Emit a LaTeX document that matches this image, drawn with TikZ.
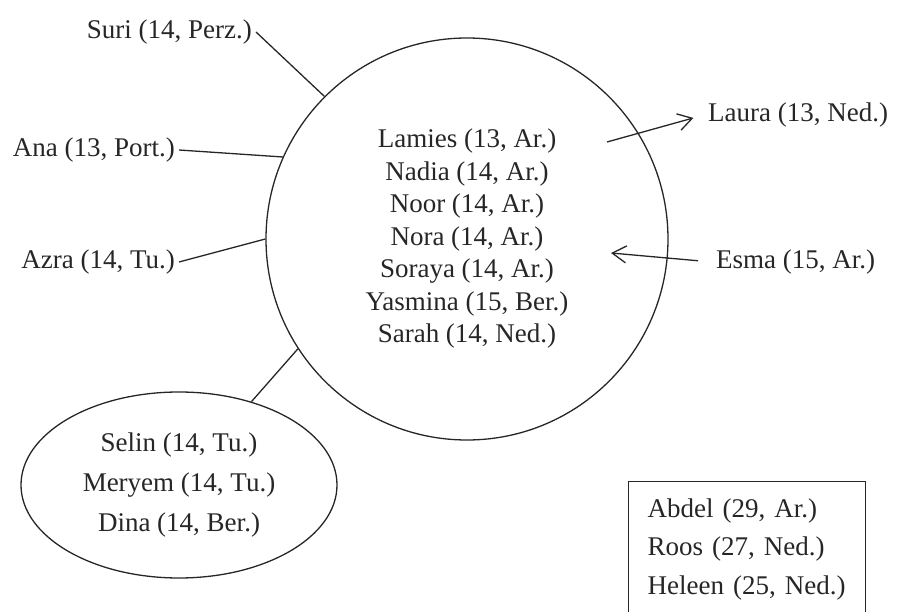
\documentclass[tikz,border=0pt]{standalone}
\usepackage{fontspec}
\setmainfont{Liberation Serif}
\usepackage{tikz}
\usetikzlibrary{
  shapes.geometric,
  arrows.meta
}

\begin{document}
\begin{tikzpicture}[
    x=1pt, y=-1pt,
    color=black!85,
    font=\fontsize{27}{32.5}\selectfont,
    grp/.style={circle, draw, line width=1.3pt, minimum size=402pt,
                inner sep=0pt, align=center},
    sub/.style={ellipse, draw, line width=1.3pt, minimum width=316pt,
                minimum height=186pt, inner sep=0pt, align=center,
                font=\fontsize{27}{40}\selectfont},
    staffbox/.style={rectangle, draw, line width=1.3pt, anchor=north west,
                     align=left, text width=199pt, inner xsep=19pt, inner ysep=17pt,
                     text depth=110pt, font=\fontsize{27}{38.5}\selectfont},
    lbl/.style={inner sep=4pt},
    link/.style={line width=1.3pt},
    arr/.style={link, -{Straight Barb[length=14pt, width=17pt]}},
  ]
    \useasboundingbox (0,0) rectangle (898,612);
    \clip (0,0) rectangle (898,612);

    %% ── Core group ───────────────────────────────────────────
    \node[grp] (grp) at (467,239)
      {Lamies (13, Ar.)\\Nadia (14, Ar.)\\Noor (14, Ar.)\\Nora (14, Ar.)\\
       Soraya (14, Ar.)\\Yasmina (15, Ber.)\\Sarah (14, Ned.)};

    %% ── Subgroup and staff ───────────────────────────────────
    \node[sub] (sel) at (179,485)
      {Selin (14, Tu.)\\Meryem (14, Tu.)\\Dina (14, Ber.)};
    \node[staffbox] (staff) at (628,481)
      {Abdel (29, Ar.)\\Roos (27, Ned.)\\Heleen (25, Ned.)};

    %% ── Single girls ─────────────────────────────────────────
    \node[lbl, anchor=east] (suri)  at (256,32)  {Suri (14, Perz.)};
    \node[lbl, anchor=east] (ana)   at (179,150) {Ana (13, Port.)};
    \node[lbl, anchor=east] (azra)  at (179,262) {Azra (14, Tu.)};
    \node[lbl, anchor=west] (laura) at (704,115) {Laura (13, Ned.)};
    \node[lbl, anchor=west] (esma)  at (712,262) {Esma (15, Ar.)};
    \coordinate (lout) at (607,142);
    \coordinate (ein)  at (611,253);

    %% ── Links ────────────────────────────────────────────────
    \draw[link] (suri.east) -- (grp.135);
    \draw[link] (ana.east) -- (grp.156);
    \draw[link] (azra.east) -- (grp.180);
    \draw[link] (sel.49) -- (grp.213);
    \draw[arr, shorten >=11pt] (lout) -- (laura.west);
    \draw[arr, shorten <=14pt] (esma.west) -- (ein);

  \end{tikzpicture}
\end{document}
